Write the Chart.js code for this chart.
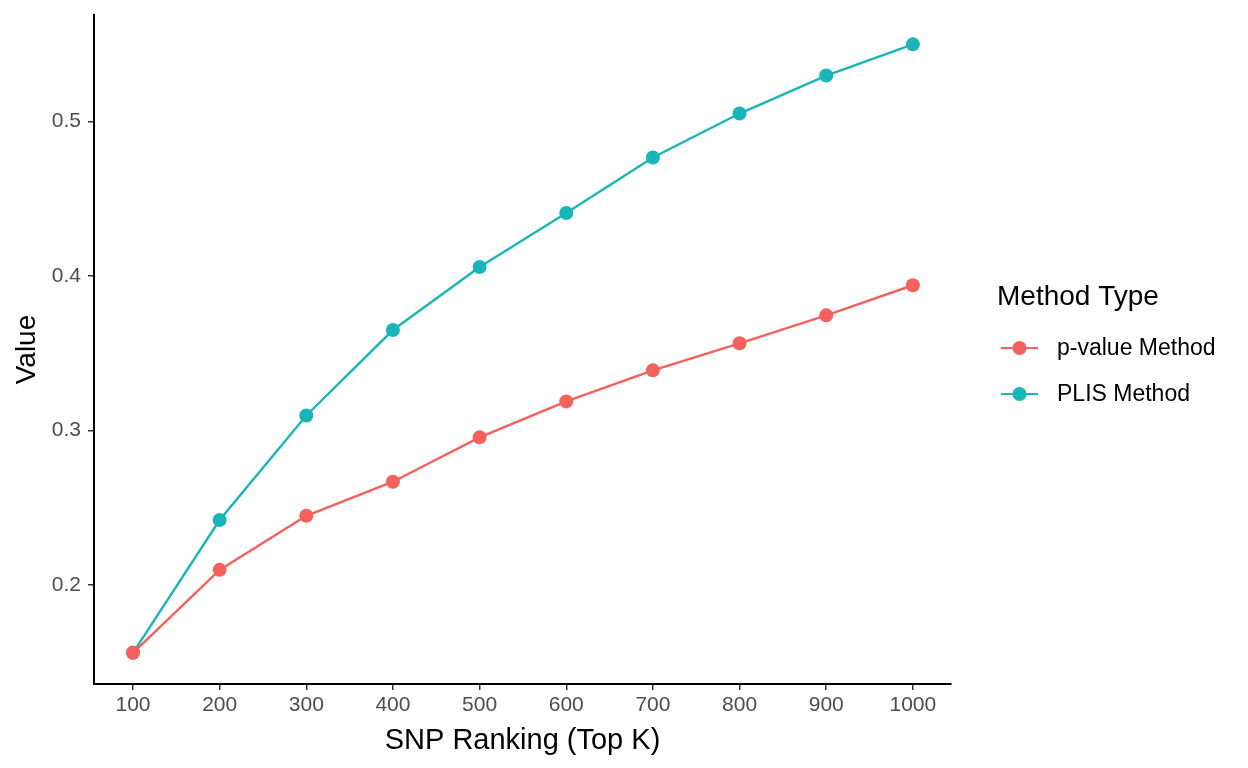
<!DOCTYPE html>
<html>
<head>
<meta charset="utf-8">
<script src="https://cdn.jsdelivr.net/npm/chart.js@4"></script>
<style>
  html, body { margin: 0; padding: 0; background: #fff; }
  #wrap { width: 1248px; height: 768px; position: relative; }
</style>
</head>
<body>
<div id="wrap"><canvas id="chart"></canvas></div>
<script>
const topK = [100, 200, 300, 400, 500, 600, 700, 800, 900, 1000];
const pvalueMethod = [0.156, 0.2097, 0.2447, 0.2668, 0.2955, 0.3188, 0.3389, 0.3564, 0.3745, 0.394];
const plisMethod = [0.156, 0.242, 0.3097, 0.365, 0.4058, 0.4408, 0.4767, 0.5052, 0.5298, 0.550];
const yTicks = [0.2, 0.3, 0.4, 0.5];
const seriesNames = ['p-value Method', 'PLIS Method'];
const seriesColors = ['#F4605B', '#19B6B9'];
const legendTitle = 'Method Type';

const FONT = 'Arial, "Liberation Sans", sans-serif';

function toPoints(values) {
    return topK.map((k, i) => ({ x: k, y: values[i] }));
}

// draws the ggplot-like legend on the right
const sideLegend = {
    id: 'sideLegend',
    afterDraw(chart) {
        const ctx = chart.ctx;
        ctx.save();
        ctx.fillStyle = '#000';
        ctx.font = '28px ' + FONT;
        ctx.textBaseline = 'middle';
        ctx.textAlign = 'left';
        ctx.fillText(legendTitle, 997, 297);
        ctx.font = '23px ' + FONT;
        seriesNames.forEach((name, i) => {
            const y = 348 + i * 46;
            ctx.strokeStyle = seriesColors[i];
            ctx.lineWidth = 2.2;
            ctx.beginPath();
            ctx.moveTo(1001, y);
            ctx.lineTo(1038, y);
            ctx.stroke();
            ctx.fillStyle = seriesColors[i];
            ctx.beginPath();
            ctx.arc(1019.5, y, 7, 0, Math.PI * 2);
            ctx.fill();
            ctx.fillStyle = '#000';
            ctx.fillText(name, 1057, y + 1);
        });
        ctx.restore();
    }
};

new Chart(document.getElementById('chart').getContext('2d'), {
    type: 'line',
    data: {
        datasets: [
            {
                label: seriesNames[0],
                data: toPoints(pvalueMethod),
                borderColor: seriesColors[0],
                backgroundColor: seriesColors[0],
                borderWidth: 2.4,
                pointRadius: 7,
                pointHoverRadius: 7,
                pointBorderWidth: 0,
                tension: 0
            },
            {
                label: seriesNames[1],
                data: toPoints(plisMethod),
                borderColor: seriesColors[1],
                backgroundColor: seriesColors[1],
                borderWidth: 2.4,
                pointRadius: 7,
                pointHoverRadius: 7,
                pointBorderWidth: 0,
                tension: 0
            }
        ]
    },
    options: {
        responsive: true,
        maintainAspectRatio: false,
        animation: false,
        layout: { padding: { left: 0, top: 15, right: 297, bottom: 0 } },
        plugins: {
            legend: { display: false },
            tooltip: { enabled: false }
        },
        scales: {
            x: {
                type: 'linear',
                min: 55,
                max: 1044,
                afterBuildTicks: (scale) => { scale.ticks = topK.map(v => ({ value: v })); },
                afterFit: (scale) => { scale.height = 84; scale.paddingLeft = 0; scale.paddingRight = 0; },
                border: { display: true, color: '#000', width: 2 },
                grid: { display: true, drawOnChartArea: false, drawTicks: true, tickLength: 6, color: '#333', lineWidth: 1.5 },
                ticks: { color: '#4d4d4d', font: { family: FONT, size: 21 }, padding: 3, maxRotation: 0, autoSkip: false, callback: (v) => String(v) },
                title: { display: true, text: 'SNP Ranking (Top K)', color: '#000', font: { family: FONT, size: 29 }, padding: { top: 0, bottom: 10 } }
            },
            y: {
                type: 'linear',
                min: 0.1358,
                max: 0.569,
                afterBuildTicks: (scale) => { scale.ticks = yTicks.map(v => ({ value: v })); },
                afterFit: (scale) => { scale.width = 94; scale.paddingTop = 0; scale.paddingBottom = 0; },
                border: { display: true, color: '#000', width: 2 },
                grid: { display: true, drawOnChartArea: false, drawTicks: true, tickLength: 6, color: '#333', lineWidth: 1.5 },
                ticks: { color: '#4d4d4d', font: { family: FONT, size: 21 }, padding: 7, callback: (v) => v.toFixed(1) },
                title: { display: true, text: 'Value', color: '#000', font: { family: FONT, size: 28 }, padding: { top: 10, bottom: 0 } }
            }
        }
    },
    plugins: [sideLegend]
});
</script>
</body>
</html>
